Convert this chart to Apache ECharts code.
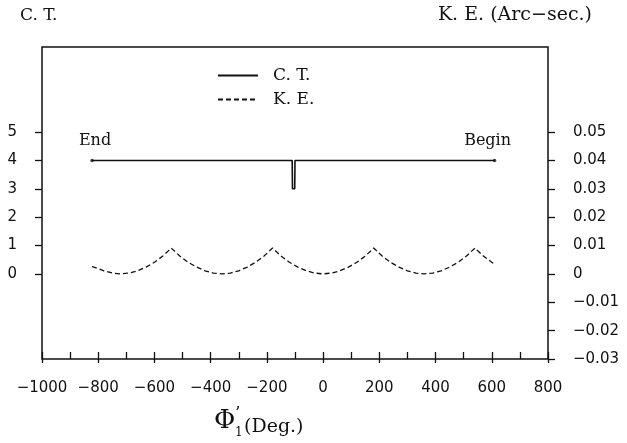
<!DOCTYPE html>
<html>
<head>
<meta charset="utf-8">
<script src="https://cdn.jsdelivr.net/npm/echarts@6/dist/echarts.min.js"></script>
<style>
  html, body { margin: 0; padding: 0; background: #fff; }
  #chart { width: 627px; height: 443px; }
</style>
</head>
<body>
<div id="chart"></div>
<script>
// C.T. trace (left axis)
const ctPhi = [-822, -110, -109, -101, -100, 610]
const ctVal = [4, 4, 3, 3, 4, 4]

// K.E. trace (right axis, arc-sec)
const kePhi = [-822, -810, -780, -750, -720, -690, -660, -630, -600, -570, -540,
  -510, -480, -450, -420, -390, -360, -330, -300, -270, -240, -210, -180,
  -150, -120, -90, -60, -30, 0, 30, 60, 90, 120, 150, 180,
  210, 240, 270, 300, 330, 360, 390, 420, 450, 480, 510, 540, 570, 600, 610]
const keVal = [0.0026, 0.0022, 0.0011, 0.0003, 0, 0.0003, 0.0011, 0.0024, 0.0041, 0.0063, 0.0091,
  0.0063, 0.0041, 0.0024, 0.0011, 0.0003, 0, 0.0003, 0.0011, 0.0024, 0.0041, 0.0063, 0.0091,
  0.0063, 0.0041, 0.0024, 0.0011, 0.0003, 0, 0.0003, 0.0011, 0.0024, 0.0041, 0.0063, 0.0091,
  0.0063, 0.0041, 0.0024, 0.0011, 0.0003, 0, 0.0003, 0.0011, 0.0024, 0.0041, 0.0063, 0.0091, 0.0063, 0.0041, 0.0035]

const leftTicks = [0, 1, 2, 3, 4, 5]
const rightTicks = [-0.03, -0.02, -0.01, 0, 0.01, 0.02, 0.03, 0.04, 0.05]

const serif = '"DejaVu Serif", "Liberation Serif", serif'
const sans = '"DejaVu Sans", "Liberation Sans", sans-serif'
const ink = '#111'

const chart = echarts.init(document.getElementById('chart'), null, { renderer: 'canvas' })

function fmtRight(v) {
  if (Math.abs(v) < 1e-9) return '0'
  return (v < 0 ? '\u2212' : '') + Math.abs(v).toFixed(2)
}

const option = {
  animation: false,
  backgroundColor: '#fff',
  grid: { left: 42, right: 79, top: 47, bottom: 84, show: true, borderColor: ink, borderWidth: 1.5 },
  legend: {
    orient: 'vertical', left: 212, top: 62, itemWidth: 40, itemHeight: 12, itemGap: 7,
    data: ['C. T.', 'K. E.'],
    itemStyle: { opacity: 0 },
    textStyle: { fontFamily: serif, fontSize: 17, color: ink, padding: [0, 0, 0, 10] }
  },
  xAxis: [{
    type: 'value', min: -1000, max: 800, interval: 200,
    axisLine: { show: false, onZero: false },
    axisTick: { inside: true, length: 7, lineStyle: { color: ink, width: 1.3 } },
    minorTick: { show: true, splitNumber: 2, length: 7, lineStyle: { color: ink, width: 1.3 } },
    splitLine: { show: false },
    axisLabel: {
      margin: 22, fontFamily: sans, fontSize: 15, color: ink,
      formatter: v => (v < 0 ? '\u2212' : '') + Math.abs(v)
    }
  }, {
    type: 'value', position: 'top', offset: -312, min: -1000, max: 800, interval: 200,
    axisLine: { show: false, onZero: false },
    axisTick: { inside: true, length: 4, lineStyle: { color: ink, width: 1.3 } },
    axisLabel: { show: false },
    splitLine: { show: false }
  }],
  yAxis: [{
    type: 'value', min: -3, max: 8, interval: 1,
    axisLine: { show: false, onZero: false },
    axisTick: { show: true, length: 7, customValues: leftTicks, lineStyle: { color: ink, width: 1.3 } },
    splitLine: { show: false },
    axisLabel: { margin: 25, fontFamily: sans, fontSize: 15, color: ink, customValues: leftTicks }
  }, {
    type: 'value', min: -0.03, max: 0.08, interval: 0.01, position: 'right',
    axisLine: { show: false, onZero: false },
    axisTick: { show: true, length: 7, customValues: rightTicks, lineStyle: { color: ink, width: 1.3 } },
    splitLine: { show: false },
    axisLabel: { margin: 25, fontFamily: sans, fontSize: 15, color: ink, customValues: rightTicks, formatter: fmtRight }
  }],
  series: [{
    name: 'C. T.', type: 'line', xAxisIndex: 0, yAxisIndex: 0,
    data: ctPhi.map((p, i) => [p, ctVal[i]]),
    symbol: 'none', color: ink,
    lineStyle: { color: ink, width: 1.6 },
    markPoint: {
      symbol: 'circle', symbolSize: 0,
      label: { show: true, fontFamily: serif, fontSize: 16, color: ink },
      data: [
        { coord: [ctPhi[0], ctVal[0]], value: 'End', label: { formatter: 'End', offset: [3, -20] } },
        { coord: [ctPhi[ctPhi.length - 1], ctVal[ctVal.length - 1]], value: 'Begin', label: { formatter: 'Begin', offset: [-7, -20] } }
      ]
    }
  }, {
    name: 'ends', type: 'scatter', xAxisIndex: 0, yAxisIndex: 0,
    data: [[ctPhi[0], ctVal[0]], [ctPhi[ctPhi.length - 1], ctVal[ctVal.length - 1]]],
    symbol: 'circle', symbolSize: 3.5, itemStyle: { color: ink }
  }, {
    name: 'K. E.', type: 'line', xAxisIndex: 0, yAxisIndex: 1,
    data: kePhi.map((p, i) => [p, keVal[i]]),
    symbol: 'none', color: ink,
    lineStyle: { color: ink, width: 1.3, type: [5, 3] }
  }],
  graphic: [
    { type: 'text', left: 20, top: 7, style: { text: 'C. T.', font: '17px ' + serif, fill: ink } },
    { type: 'text', right: 35, top: 6, style: { text: 'K. E. (Arc\u2212sec.)', font: '19px ' + serif, fill: ink } },
    { type: 'text', left: 214, top: 408, style: { text: '\u03A6', font: '26px ' + serif, fill: ink } },
    { type: 'text', left: 235, top: 427, style: { text: '1', font: '12px ' + serif, fill: ink } },
    { type: 'text', left: 235, top: 405, style: { text: '\u2019', font: '17px ' + serif, fill: ink } },
    { type: 'text', left: 244, top: 418, style: { text: '(Deg.)', font: '19px ' + serif, fill: ink } }
  ]
}

chart.setOption(option)
window.addEventListener('resize', () => chart.resize())
</script>
</body>
</html>
